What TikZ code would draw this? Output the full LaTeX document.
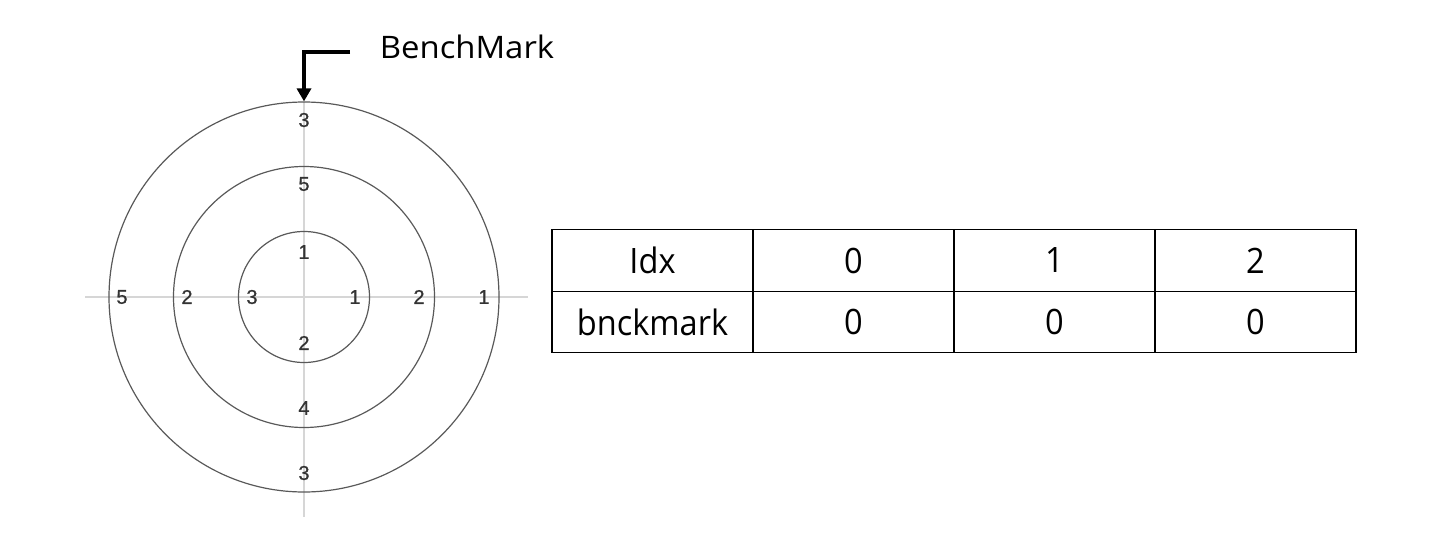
\documentclass[tikz,border=0pt]{standalone}
\usepackage{fontspec}
\setmainfont{Open Sans}
\newfontfamily\digitfont[FakeBold=0.8]{Liberation Sans}
\newfontfamily\tabfont[FakeStretch=0.93]{Open Sans}
\newfontfamily\bmfont[FakeStretch=1.06]{Open Sans}
\usetikzlibrary{arrows.meta}
\begin{document}
\begin{tikzpicture}[x=1pt,y=-1pt,
  ring/.style={circle,draw=black!65,line width=1.2pt,inner sep=0pt},
  cross/.style={draw=black!16,line width=1.6pt},
  dig/.style={font=\digitfont\fontsize{20}{20}\selectfont,text=black!80,inner sep=0pt},
  cell/.style={draw=black,line width=1.4pt,minimum width=201pt,minimum height=61.5pt,inner sep=0pt,font=\tabfont\fontsize{35}{35}\selectfont,anchor=center},
  bm/.style={line width=4pt,-{Triangle[width=14pt,length=13pt]}}]
\useasboundingbox (0,0) rectangle (1455,554);
% crosshair
\coordinate (hl) at (85,297);
\coordinate (hr) at (528,297);
\coordinate (vt) at (304,102);
\coordinate (vb) at (304,517);
\draw[cross] (hl) -- (hr);
\draw[cross] (vt) -- (vb);
% rings
\node[ring,minimum size=390pt] (outer) at (304,297) {};
\node[ring,minimum size=261pt] (middle) at (304,297) {};
\node[ring,minimum size=131pt] (inner) at (304,297) {};
% digits
\node[dig] (t1) at (304,120) {3};
\node[dig] (t2) at (304,184) {5};
\node[dig] (t3) at (304,252) {1};
\node[dig] (b3) at (304,343) {2};
\node[dig] (b2) at (304,408) {4};
\node[dig] (b1) at (304,473) {3};
\node[dig] (l1) at (122,297) {5};
\node[dig] (l2) at (187,297) {2};
\node[dig] (l3) at (252,297) {3};
\node[dig] (r3) at (355,297) {1};
\node[dig] (r2) at (419,297) {2};
\node[dig] (r1) at (484,297) {1};
% benchmark arrow
\coordinate (bmstart) at (350,52);
\node[font=\bmfont\fontsize{31}{31}\selectfont,inner sep=0pt] (bmlabel) at (467,47) {BenchMark};
\draw[bm] (bmstart) -| (outer.north);
% table
\node[cell] (c00) at (652.5,260.5) {Idx};
\node[cell] (c01) at (853.5,260.5) {0};
\node[cell] (c02) at (1054.5,260.5) {1};
\node[cell] (c03) at (1255.5,260.5) {2};
\node[cell] (c10) at (652.5,322) {bnckmark};
\node[cell] (c11) at (853.5,322) {0};
\node[cell] (c12) at (1054.5,322) {0};
\node[cell] (c13) at (1255.5,322) {0};
\end{tikzpicture}
\end{document}
